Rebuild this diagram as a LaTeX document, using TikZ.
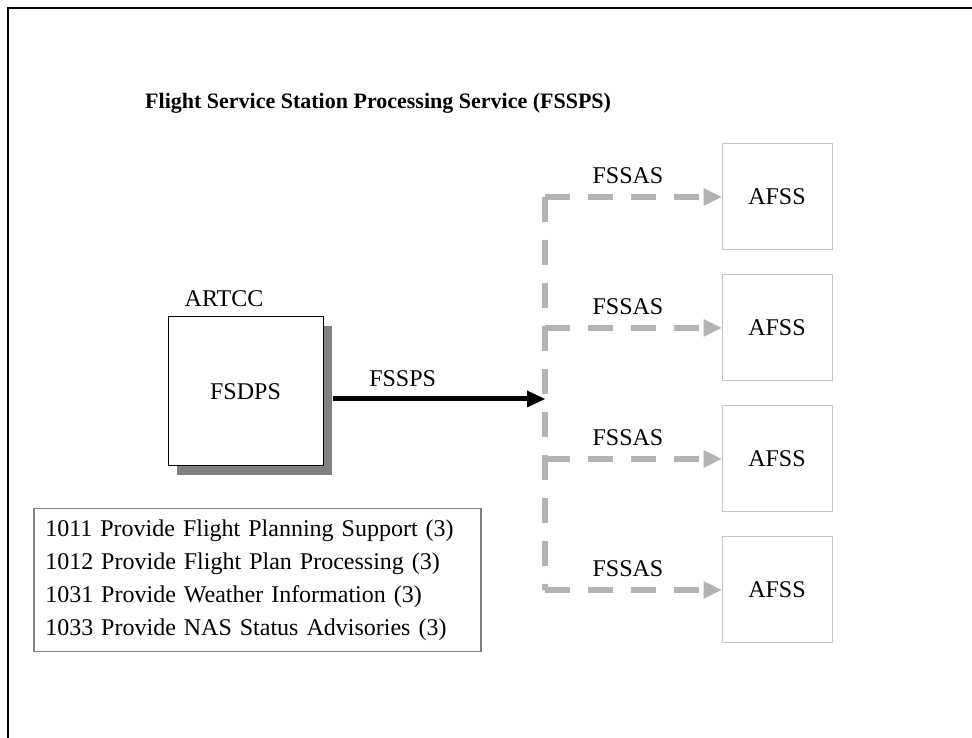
\documentclass[tikz,border=0pt]{standalone}
\usepackage{fontspec}
\setmainfont{Liberation Serif}
\usetikzlibrary{arrows.meta, positioning, shadows}
\definecolor{linkgray}{RGB}{179,179,179}
\definecolor{boxgray}{RGB}{196,196,196}
\definecolor{shadowgray}{RGB}{128,128,128}

\begin{document}
\begin{tikzpicture}[x=1pt, y=1pt,
  every node/.style={inner sep=2pt, font=\fontsize{24}{30}\selectfont},
  sysbox/.style={draw=black, line width=1pt, fill=white,
    minimum width=155pt, minimum height=149pt,
    drop shadow={shadow xshift=9pt, shadow yshift=-9pt, fill=shadowgray, opacity=1}},
  sitebox/.style={draw=boxgray, line width=1pt, minimum width=110pt, minimum height=106pt},
  flow/.style={line width=5pt, -{Triangle[length=18pt, width=17pt, line width=0pt]}},
  feed/.style={draw=linkgray, line width=6pt, dash pattern=on 25pt off 18pt},
  feedarrow/.style={feed, -{Triangle[length=18pt, width=18pt, line width=0pt, fill=linkgray]}}
]
  \useasboundingbox (0,0) rectangle (972,738);
  % outer frame (top and left edges only)
  \draw[line width=2.5pt] (972,730) -- (8,730) -- (8,0);

  \node[anchor=base west, font=\fontsize{22}{26}\selectfont\bfseries] (title) at (143,629)
    {Flight Service Station Processing Service (FSSPS)};

  % source system
  \node[sysbox] (fsdps) at (245.5,346.5) {FSDPS};
  \node[anchor=base west] (artcc) at ([shift={(15pt,10pt)}]fsdps.north west) {ARTCC};

  % receiving sites
  \node[sitebox] (afss1) at (777,541) {AFSS};
  \node[sitebox, below=24pt of afss1] (afss2) {AFSS};
  \node[sitebox, below=24pt of afss2] (afss3) {AFSS};
  \node[sitebox, below=24pt of afss3] (afss4) {AFSS};

  % service flow into the distribution bus
  \coordinate (bus) at (545,339);
  \draw[flow] ([xshift=9pt]fsdps.east |- bus) -- (bus)
    node[pos=0.33, above=8pt] (fssps) {FSSPS};
  \draw[feed] (bus |- afss1.west) -- (bus |- afss4.west);
  \foreach \i in {1,...,4}
    \draw[feedarrow] (bus |- afss\i.west) -- (afss\i.west)
      node[pos=0.47, above=8pt] (fssas\i) {FSSAS};

  % allocated functions
  \node[draw=shadowgray, line width=1.5pt, anchor=north west, align=left,
        text width=424pt, inner xsep=11.5pt, inner ysep=11pt,
        font=\fontsize{24}{33}\selectfont] (funcs) at (33,230)
    {1011 Provide Flight Planning Support (3)\\
     1012 Provide Flight Plan Processing (3)\\
     1031 Provide Weather Information (3)\\
     1033 Provide NAS Status Advisories (3)};
\end{tikzpicture}
\end{document}
